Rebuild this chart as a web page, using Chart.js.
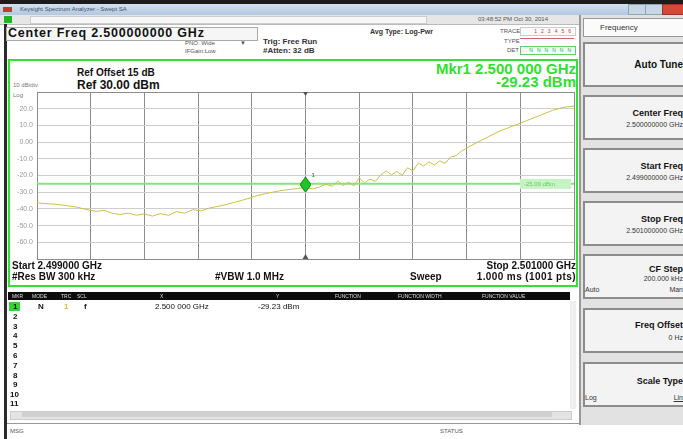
<!DOCTYPE html>
<html>
<head>
<meta charset="utf-8">
<script src="https://cdn.jsdelivr.net/npm/chart.js@4.4.1/dist/chart.umd.min.js"></script>
<style>
body{margin:0;width:683px;height:439px;overflow:hidden;background:#fff;position:relative;font-family:"Liberation Sans",Arial,sans-serif;color:#111}
.a{position:absolute;white-space:nowrap}
.b{font-weight:bold}
.t{font-size:6px;color:#555}
.key{position:absolute;left:583px;width:104px;height:45px;background:#f3f3f3;border:2px solid #8c8c8c;box-sizing:border-box}
.key .m{position:absolute;right:2px;font-weight:bold;font-size:9px;white-space:nowrap}
.key .s{position:absolute;right:2px;font-size:7px;color:#333;white-space:nowrap}
.row{position:absolute;left:13px;font-size:8px;font-weight:bold}
.hd{position:absolute;top:293px;font-size:5px;color:#ddd;white-space:nowrap}
</style>
</head>
<body>
<!-- window chrome -->
<div class="a" style="left:0;top:0;width:683px;height:4px;background:#1c1c1c"></div>
<div class="a" style="left:0;top:4px;width:683px;height:11px;background:linear-gradient(#d5e1ef,#b3c7e0)"></div>
<div class="a" style="left:3px;top:7px;width:9px;height:5px;background:#c83a30"></div>
<div class="a t" style="left:20px;top:6px;color:#40506a">Keysight Spectrum Analyzer - Swept SA</div>
<div class="a" style="left:628px;top:4px;width:16px;height:9px;background:#c9d6e8;border:1px solid #8aa"></div>
<div class="a" style="left:645px;top:4px;width:16px;height:9px;background:#c9d6e8;border:1px solid #8aa"></div>
<div class="a" style="left:662px;top:4px;width:21px;height:9px;background:#d44a36;border:1px solid #933"></div>

<!-- status strip -->
<div class="a" style="left:0;top:15px;width:579px;height:9px;background:#e6e6e6;border-bottom:1px solid #bbb"></div>
<div class="a" style="left:4px;top:16px;width:8px;height:7px;background:#22b322"></div>
<div class="a" style="left:30px;top:16px;width:395px;height:6px;background:#f7f7f7;border:1px solid #ccc"></div>
<div class="a t" style="left:478px;top:16px">03:48:52 PM Oct 30, 2014</div>

<!-- left frame -->
<div class="a" style="left:4px;top:24px;width:3px;height:415px;background:#2a2a2a"></div>

<!-- header -->
<div class="a b" style="left:6px;top:27px;width:250px;height:12px;border:1px solid #aaa;background:#f6f6f6"></div>
<div class="a b" style="left:8px;top:26px;font-size:12.5px;letter-spacing:0.8px">Center Freq 2.500000000 GHz</div>
<div class="a t" style="left:185px;top:40px">PNO: Wide</div>
<div class="a t" style="left:240px;top:40px">&#9660;</div>
<div class="a t" style="left:185px;top:48px">IFGain:Low</div>
<div class="a b" style="left:263px;top:37px;font-size:8px;color:#333">Trig: Free Run</div>
<div class="a b" style="left:263px;top:46px;font-size:8px;color:#333">#Atten: 32 dB</div>
<div class="a b" style="left:370px;top:28px;font-size:7px;color:#333">Avg Type: Log-Pwr</div>
<div class="a t" style="left:500px;top:28px">TRACE</div>
<div class="a" style="left:520px;top:27px;width:54px;height:7px;border:1px solid #ccc;background:#fbfbfb;font-size:5px;color:#c33;letter-spacing:4px;text-align:right">123456</div>
<div class="a t" style="left:504px;top:38px">TYPE</div>
<div class="a" style="left:520px;top:38px;width:54px;height:1px;background:#c66"></div>
<div class="a t" style="left:507px;top:47px">DET</div>
<div class="a" style="left:520px;top:46px;width:54px;height:7px;border:1px solid #6c6;background:#f2fff2;font-size:5px;color:#3a3;letter-spacing:4px;text-align:right">NNNNNN</div>

<!-- measurement area -->
<div class="a" style="left:8px;top:59px;width:566px;height:224px;border:2px solid #35e035"></div>
<div class="a b" style="left:77px;top:67px;font-size:10px">Ref Offset 15 dB</div>
<div class="a b" style="left:77px;top:78px;font-size:12px">Ref 30.00 dBm</div>
<div class="a t" style="left:13px;top:82px;color:#777">10 dB/div</div>
<div class="a t" style="left:13px;top:92px;color:#777">Log</div>
<div class="a b" style="right:107px;top:60px;font-size:15px;color:#30e030;text-align:right">Mkr1 2.500 000 GHz</div>
<div class="a b" style="right:107px;top:73px;font-size:15px;color:#30e030;text-align:right">-29.23 dBm</div>
<div class="a" style="left:8px;top:84px;width:574px;height:183px"><canvas id="plot" width="574" height="183"></canvas></div>
<div class="a b" style="left:12px;top:260px;font-size:10px">Start 2.499000 GHz</div>
<div class="a b" style="right:107px;top:260px;font-size:10px">Stop 2.501000 GHz</div>
<div class="a b" style="left:12px;top:271px;font-size:10px">#Res BW 300 kHz</div>
<div class="a b" style="left:215px;top:271px;font-size:10px">#VBW 1.0 MHz</div>
<div class="a b" style="left:410px;top:271px;font-size:10px">Sweep</div>
<div class="a b" style="right:107px;top:271px;font-size:10px;letter-spacing:0.4px">1.000 ms (1001 pts)</div>

<!-- marker table -->
<div class="a" style="left:8px;top:292px;width:562px;height:8px;background:#0c0c0c"></div>
<div class="hd" style="left:12px">MKR</div>
<div class="hd" style="left:32px">MODE</div>
<div class="hd" style="left:61px">TRC</div>
<div class="hd" style="left:77px">SCL</div>
<div class="hd" style="left:160px">X</div>
<div class="hd" style="left:276px">Y</div>
<div class="hd" style="left:335px">FUNCTION</div>
<div class="hd" style="left:398px">FUNCTION WIDTH</div>
<div class="hd" style="left:482px">FUNCTION VALUE</div>
<div class="a" style="left:570px;top:301px;width:6px;height:108px;background:#eee"></div>
<div class="a" style="left:9px;top:302px;width:11px;height:9px;background:#33d633"></div>
<div class="row" style="top:302px">1</div>
<div class="a b" style="left:38px;top:302px;font-size:8px">N</div>
<div class="a b" style="left:64px;top:302px;font-size:8px;color:#c9c23a">1</div>
<div class="a b" style="left:84px;top:302px;font-size:8px">f</div>
<div class="a" style="left:155px;top:302px;font-size:8px">2.500 000 GHz</div>
<div class="a" style="left:258px;top:302px;font-size:8px">-29.23 dBm</div>
<div class="row" style="top:312px">2</div>
<div class="row" style="top:322px">3</div>
<div class="row" style="top:331px">4</div>
<div class="row" style="top:341px">5</div>
<div class="row" style="top:351px">6</div>
<div class="row" style="top:361px">7</div>
<div class="row" style="top:371px">8</div>
<div class="row" style="top:380px">9</div>
<div class="row" style="top:390px;left:10px">10</div>
<div class="row" style="top:399px;left:10px">11</div>
<div class="a" style="left:10px;top:411px;width:560px;height:7px;background:#e4e4e4;border:1px solid #ccc"></div>
<div class="a" style="left:22px;top:412px;width:530px;height:5px;background:#d0d0d0"></div>

<!-- bottom status -->
<div class="a" style="left:7px;top:423px;width:676px;height:1px;background:#999"></div>
<div class="a t" style="left:10px;top:428px">MSG</div>
<div class="a t" style="left:440px;top:428px">STATUS</div>

<!-- softkeys -->
<div class="a" style="left:579px;top:15px;width:104px;height:410px;background:#e2e2e2;border-left:2px solid #999"></div>
<div class="a" style="left:583px;top:18px;width:104px;height:19px;background:#fbfbfb;border:1px solid #999;box-sizing:border-box"></div>
<div class="a" style="left:600px;top:23px;font-size:8px;color:#333">Frequency</div>
<div class="key" style="top:42px"><div class="m" style="top:15px;font-size:10px">Auto Tune</div></div>
<div class="key" style="top:95px"><div class="m" style="top:11px">Center Freq</div><div class="s" style="top:24px">2.500000000 GHz</div></div>
<div class="key" style="top:148px"><div class="m" style="top:11px">Start Freq</div><div class="s" style="top:24px">2.499000000 GHz</div></div>
<div class="key" style="top:201px"><div class="m" style="top:11px">Stop Freq</div><div class="s" style="top:24px">2.501000000 GHz</div></div>
<div class="key" style="top:254px"><div class="m" style="top:8px">CF Step</div><div class="s" style="top:19px">200.000 kHz</div><div class="s" style="top:30px;left:0">Auto</div><div class="s" style="top:30px">Man</div></div>
<div class="key" style="top:308px"><div class="m" style="top:10px">Freq Offset</div><div class="s" style="top:24px">0 Hz</div></div>
<div class="key" style="top:362px"><div class="m" style="top:12px">Scale Type</div><div class="s" style="top:30px;left:0">Log</div><div class="s" style="top:30px;text-decoration:underline">Lin</div></div>

<script>
// sweep 2.499 - 2.501 GHz, x given as offset from center in kHz
const freqKHz = [-1000, -970, -930, -890, -850, -810, -780, -750, -720, -690, -660, -630, -600, -570, -540, -510, -480, -450, -420, -390, -360, -330, -300, -270, -240, -210, -180, -150, -120, -90, -60, -30,
  0, 25, 50, 75, 100, 120, 140, 160, 180, 200, 220, 240, 260, 280, 300, 320, 340, 360, 380, 400, 420, 440, 460, 480, 500, 520, 540, 560, 580, 600,
  640, 680, 720, 760, 800, 840, 880, 920, 960, 1000];
const traceDbm = [-36.3, -36.8, -37.2, -38.0, -39.0, -40.6, -41.5, -40.8, -42.6, -43.3, -42.5, -43.8, -43.0, -44.3, -42.8, -43.9, -41.6, -42.6, -40.4, -41.2, -39.6, -38.6, -37.6, -36.3, -35.0, -33.6, -32.0, -30.9, -29.9, -29.0, -28.4, -27.8,
  -27.2, -28.0, -27.0, -25.2, -26.4, -23.3, -26.0, -24.0, -26.3, -21.4, -24.4, -22.2, -23.5, -19.8, -17.2, -19.6, -17.6, -19.8, -15.4, -17.2, -12.6, -14.3, -11.8, -13.7, -11.2, -12.8, -9.0, -8.2, -5.5, -3.6,
  -0.1, 3.1, 6.3, 8.9, 11.3, 13.9, 16.4, 19.0, 20.8, 21.6];
const markerKHz = [0];
const markerDbm = [-25.5];
const markerNames = ['1'];
const displayLineDbm = -25;
const refLevel = 30;
const bottomLevel = -70;
const spanKHz = [-1000, 1000];

const diamond = document.createElement('canvas');
diamond.width = 11; diamond.height = 15;
(function () {
  const c = diamond.getContext('2d');
  c.beginPath();
  c.moveTo(5.5, 0); c.lineTo(11, 7.5); c.lineTo(5.5, 15); c.lineTo(0, 7.5); c.closePath();
  c.fillStyle = '#1ec81e'; c.fill();
  c.strokeStyle = '#0b7a0b'; c.lineWidth = 1; c.stroke();
})();

// display line readout box, marker number and the small center-freq ticks
const extras = {
  id: 'extras',
  afterDatasetsDraw(chart) {
    const { ctx, chartArea, scales } = chart;
    const y = scales.y.getPixelForValue(displayLineDbm);
    ctx.save();
    ctx.fillStyle = '#c6f3c2';
    ctx.fillRect(chartArea.right - 54, y - 5, 51, 10);
    ctx.fillStyle = '#6cc96c';
    ctx.font = '6px "Liberation Sans", Arial';
    ctx.textBaseline = 'middle';
    ctx.fillText(displayLineDbm.toFixed(2) + ' dBm', chartArea.right - 50, y);

    const cx = scales.x.getPixelForValue(0);
    ctx.fillStyle = '#555';
    ctx.beginPath();
    ctx.moveTo(cx, chartArea.bottom - 5); ctx.lineTo(cx - 3, chartArea.bottom); ctx.lineTo(cx + 3, chartArea.bottom);
    ctx.closePath(); ctx.fill();
    ctx.beginPath();
    ctx.moveTo(cx, chartArea.top + 4); ctx.lineTo(cx - 2.5, chartArea.top); ctx.lineTo(cx + 2.5, chartArea.top);
    ctx.closePath(); ctx.fill();

    markerKHz.forEach((f, i) => {
      ctx.fillStyle = '#2aa82a';
      ctx.font = 'bold 6px "Liberation Sans", Arial';
      ctx.fillText(markerNames[i], scales.x.getPixelForValue(f) + 6, scales.y.getPixelForValue(markerDbm[i]) - 9);
    });
    ctx.restore();
  }
};

const edge = '#8c8c8c';
new Chart(document.getElementById('plot'), {
  type: 'scatter',
  data: {
    datasets: [
      {
        data: markerKHz.map((f, i) => ({ x: f, y: markerDbm[i] })),
        pointStyle: diamond, pointRadius: 7, showLine: false
      },
      {
        data: freqKHz.map((f, i) => ({ x: f, y: traceDbm[i] })),
        showLine: true, borderColor: '#c9c245', borderWidth: 1, pointRadius: 0, tension: 0
      },
      {
        data: spanKHz.map(f => ({ x: f, y: displayLineDbm })),
        showLine: true, borderColor: '#84e284', borderWidth: 2, pointRadius: 0
      }
    ]
  },
  options: {
    responsive: false,
    animation: false,
    devicePixelRatio: 1,
    layout: { padding: { top: 4, right: 3, bottom: 4, left: 0 } },
    plugins: { legend: { display: false }, tooltip: { enabled: false } },
    scales: {
      x: {
        type: 'linear', min: spanKHz[0], max: spanKHz[1],
        ticks: { display: false, stepSize: 200 },
        grid: { drawTicks: false, color: edge },
        border: { color: edge },
        afterFit: s => { s.height = 0; s.paddingLeft = 0; s.paddingRight = 0; }
      },
      y: {
        min: bottomLevel, max: refLevel,
        ticks: {
          stepSize: 10, color: '#999', padding: 4,
          font: { size: 7, family: '"Liberation Sans", Arial' },
          callback: v => (v === refLevel || v === bottomLevel) ? '' : (v === 0 ? '0.00' : v.toFixed(1))
        },
        grid: { drawTicks: false, color: c => (c.tick && (c.tick.value === refLevel || c.tick.value === bottomLevel)) ? edge : '#cdcdcd' },
        border: { color: edge },
        afterFit: s => { s.width = 29; s.paddingTop = 0; s.paddingBottom = 0; }
      }
    }
  },
  plugins: [extras]
});
</script>
</body>
</html>
